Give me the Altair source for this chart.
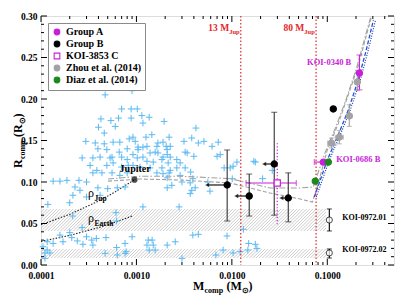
import altair as alt
import numpy as np
import pandas as pd

FONT = "Liberation Serif"
W, H = 353, 249
XMIN, XMAX = 1e-4, 0.5
YMIN, YMAX = 0.0, 0.30

PURPLE = "#c81fd8"
GREEN = "#1b8a1b"
GRAY = "#a2a2a2"
RED = "#e3262b"
BLUE = "#2450d8"
CROSS = "#5ab8f2"

# ---------------- data ----------------
cross_mass = [
    4.7e-4, 9.0e-4, 7.0e-4, 8.8e-4, 1.02e-3, 4.25e-4, 5.4e-4, 6.5e-4, 8.8e-4, 1.14e-3,
    1.36e-3, 1.17e-3, 1.95e-3, 4.2e-3, 4.0e-4, 6.0e-4, 4.6e-4, 2.95e-4, 3.7e-4, 4.6e-4,
    5.7e-4, 6.7e-4, 8.4e-4, 9.7e-4, 9.2e-4, 1.26e-3, 1.45e-3, 1.04e-3, 1.17e-3, 1.68e-3,
    1.9e-3, 2.2e-3, 2.05e-3, 2.26e-3, 3.15e-3, 3.8e-3, 4.45e-3, 5.1e-3, 6.2e-3, 2.7e-4,
    3.5e-4, 3.95e-4, 4.9e-4, 5.55e-4, 6.6e-4, 7.0e-4, 8.0e-4, 9.2e-4, 1.04e-3, 3.4e-3,
    4.0e-3, 7.0e-3, 1.29e-3, 1.64e-3, 1.39e-3, 1.57e-3, 1.9e-3, 2.26e-3, 1.02e-3, 1.17e-3,
    2.1e-3, 7.2e-3, 1.68e-3, 2.1e-3, 3.24e-3, 1.29e-3, 1.5e-3, 1.85e-3, 2.15e-3, 2.65e-3,
    2.87e-3, 9.2e-4, 1.09e-3, 1.39e-3, 1.85e-3, 2.26e-3, 2.65e-3, 3.24e-3, 1.64e-3, 1.9e-3,
    2.2e-3, 2.87e-3, 2.1e-3, 3.7e-3, 3.9e-3, 3.66e-3, 5.6e-3, 4.13e-3, 3.8e-3, 5.9e-3,
    1.76e-2, 4.16e-4, 5.3e-4, 8.0e-4, 3.27e-4, 3.85e-4, 4.9e-4, 5.7e-4, 7.0e-4, 8.2e-4,
    3.5e-4, 4.35e-4, 5.55e-4, 6.7e-4, 8.0e-4, 1.34e-4, 1.58e-4, 1.87e-4, 2.5e-4, 3.0e-4,
    2.27e-4, 2.56e-4, 2.16e-4, 3.0e-4, 2.0e-4, 3.95e-4, 5.0e-4, 6.3e-4, 7.6e-4, 4.16e-4,
    1.17e-3, 2.8e-3, 6.1e-4, 1.18e-4, 1.58e-4, 2.0e-4, 2.1e-4, 3.0e-4, 3.4e-4, 2.4e-4,
    1.16e-4, 1.34e-4, 3.5e-4, 2.75e-4, 7.6e-4, 1.05e-4, 1.16e-4, 4.7e-4, 6.3e-4, 7.6e-4,
    1.1e-4, 9.0e-4, 1.33e-3, 1.46e-3, 1.29e-3, 1.5e-3, 1.36e-3, 1.57e-3, 2.1e-3, 2.55e-3,
    3.9e-3, 4.45e-3, 3.0e-3, 6.8e-3, 8.9e-3, 8.1e-3, 1.22e-2, 1.47e-2, 1.83e-2, 1.5e-2,
    1.76e-2, 1.03e-2, 1.32e-2, 8.3e-3, 9.6e-3, 1.03e-2, 1.13e-2, 1.7e-2, 2.1e-2, 2.65e-2,
    1.01e-2, 7.55e-3, 2.35e-3, 3.0e-3, 2.1e-3, 3.66e-3, 1.1e-4, 1.24e-4, 1.7e-4, 2.7e-4,
    3.8e-4, 4.8e-4, 6.2e-4, 7.8e-4, 2.15e-4, 6.2e-4,
]
cross_radius = [
    0.205, 0.210, 0.188, 0.188, 0.188, 0.176, 0.174, 0.177, 0.177, 0.180,
    0.178, 0.171, 0.173, 0.165, 0.166, 0.167, 0.159, 0.149, 0.147, 0.146,
    0.148, 0.148, 0.152, 0.149, 0.154, 0.154, 0.157, 0.142, 0.142, 0.147,
    0.148, 0.154, 0.143, 0.143, 0.149, 0.153, 0.147, 0.149, 0.143, 0.129,
    0.129, 0.140, 0.139, 0.130, 0.136, 0.130, 0.140, 0.133, 0.139, 0.135,
    0.131, 0.131, 0.143, 0.143, 0.135, 0.136, 0.130, 0.130, 0.129, 0.130,
    0.139, 0.148, 0.135, 0.133, 0.136, 0.125, 0.124, 0.127, 0.123, 0.127,
    0.123, 0.120, 0.118, 0.117, 0.117, 0.114, 0.117, 0.117, 0.111, 0.110,
    0.111, 0.108, 0.105, 0.112, 0.104, 0.099, 0.100, 0.093, 0.090, 0.089,
    0.124, 0.130, 0.129, 0.127, 0.120, 0.114, 0.120, 0.123, 0.118, 0.120,
    0.111, 0.111, 0.111, 0.108, 0.111, 0.101, 0.101, 0.102, 0.102, 0.100,
    0.094, 0.090, 0.084, 0.082, 0.075, 0.093, 0.092, 0.093, 0.094, 0.084,
    0.070, 0.070, 0.063, 0.073, 0.036, 0.039, 0.033, 0.034, 0.030, 0.029,
    0.028, 0.026, 0.024, 0.025, 0.026, 0.022, 0.018, 0.014, 0.012, 0.014,
    0.008, 0.034, 0.030, 0.030, 0.024, 0.024, 0.018, 0.018, 0.024, 0.028,
    0.036, 0.037, 0.008, 0.012, 0.035, 0.018, 0.016, 0.018, 0.020, 0.026,
    0.025, 0.0145, 0.043, 0.117, 0.117, 0.119, 0.124, 0.125, 0.104, 0.114,
    0.104, 0.133, 0.096, 0.100, 0.093, 0.086, 0.0145, 0.0145, 0.028, 0.045,
    0.032, 0.033, 0.021, 0.016, 0.059, 0.053,
]

# legend groups (in legend order)
groups = ["Group A", "Group B", "KOI-3853 C", "Zhou et al. (2014)", "Diaz et al. (2014)"]
group_fill = [PURPLE, "black", "white", GRAY, GREEN]
group_stroke = [PURPLE, "black", PURPLE, GRAY, GREEN]
group_shape = ["circle", "circle", "square", "circle", "circle"]

zhou_mass = [0.1105, 0.1337, 0.170, 0.2065]
zhou_radius = [0.147, 0.154, 0.1795, 0.2205]
zhou_rlo = [0.141, 0.146, 0.167, 0.210]
zhou_rhi = [0.153, 0.162, 0.193, 0.232]
zhou_mlo = [0.101, 0.121, 0.160, 0.195]
zhou_mhi = [0.120, 0.147, 0.181, 0.218]

groupA_name = ["KOI-0340 B", "KOI-0686 B"]
groupA_mass = [0.217, 0.0908]
groupA_radius = [0.2313, 0.124]
koi0340_rlo, koi0340_rhi = 0.211, 0.253
koi0686_mlo, koi0686_mhi = 0.0731, 0.105

groupB_mass = [0.00893, 0.0152, 0.0278, 0.039, 0.1156]
groupB_radius = [0.0964, 0.0831, 0.1217, 0.0807, 0.188]
groupB_rlo = [0.053, 0.059, 0.060, 0.052]
groupB_rhi = [0.1386, 0.1096, 0.184, 0.111]
groupB_mlimit = [0.00551, 0.01112, 0.0218, 0.033]

koi3853_mass, koi3853_radius = 0.0299, 0.0988
koi3853_mlo, koi3853_mhi = 0.0141, 0.0473
koi3853_rlo, koi3853_rhi = 0.049, 0.148

diaz_mass = [0.0748, 0.1026]
diaz_radius = [0.101, 0.124]

koi0972_name = ["KOI-0972.01", "KOI-0972.02"]
koi0972_mass = [0.105, 0.105]
koi0972_radius = [0.0542, 0.0145]
koi0972_rlo = [0.041, 0.0084]
koi0972_rhi = [0.0675, 0.0193]
hatch_mass_edge = 0.097

jupiter_mass, jupiter_radius = 0.000954, 0.1028

rho_jup_mass = [1e-4, 2e-4, 4e-4, 6e-4, 0.000954]
rho_jup_radius = [0.0485, 0.0611, 0.0770, 0.0881, 0.1028]
rho_earth_mass = [1e-4, 2e-4, 4e-4, 6e-4, 9e-4]
rho_earth_radius = [0.0283, 0.0357, 0.0450, 0.0515, 0.0590]

mjup13, mjup80 = 0.0124, 0.0763

gray1_mass = [5.04e-4, 1.09e-3, 2.87e-3, 9.61e-3, 0.0252, 0.0521, 0.0713, 0.0805, 0.0953, 0.124, 0.158, 0.201, 0.244, 0.290]
gray1_radius = [0.1036, 0.107, 0.107, 0.104, 0.0928, 0.0928, 0.094, 0.112, 0.136, 0.1675, 0.200, 0.236, 0.271, 0.302]
gray2_mass = [5.04e-4, 1.09e-3, 2.87e-3, 9.61e-3, 0.0252, 0.0521, 0.0697, 0.0785, 0.100, 0.130, 0.166, 0.211, 0.256, 0.300]
gray2_radius = [0.101, 0.1036, 0.1024, 0.0988, 0.0867, 0.0795, 0.0759, 0.094, 0.1386, 0.170, 0.205, 0.240, 0.276, 0.305]

blue1_mass = [0.0731, 0.100, 0.130, 0.166, 0.211, 0.256, 0.304]
blue1_radius = [0.0819, 0.1265, 0.1566, 0.1867, 0.2229, 0.259, 0.295]
blue2_mass = [0.0768, 0.105, 0.1365, 0.174, 0.222, 0.269, 0.32]
blue2_radius = [0.0819, 0.1265, 0.1566, 0.1867, 0.2229, 0.259, 0.295]

y_major = [0.0, 0.05, 0.10, 0.15, 0.20, 0.25, 0.30]
y_minor = [round(0.01 * i, 2) for i in range(31) if i % 5 != 0]
x_major = [1e-4, 1e-3, 1e-2, 1e-1]
x_minor = [k * 10.0 ** e for e in range(-4, -1 + 1) for k in range(2, 10) if k * 10.0 ** e < XMAX]

# ---------------- scales / helpers ----------------
xs = alt.Scale(type="log", domain=[XMIN, XMAX], nice=False)
ys = alt.Scale(domain=[YMIN, YMAX], nice=False, zero=False)
xaxis = alt.Axis(values=x_major, format=".4f", ticks=False, domain=False, grid=False,
                 labelFont=FONT, labelFontWeight="bold", labelFontSize=9.5, labelColor="black",
                 labelPadding=5, labelFlush=False, title=None)
yaxis = alt.Axis(values=y_major, format=".2f", ticks=False, domain=False, grid=False,
                 labelFont=FONT, labelFontWeight="bold", labelFontSize=9.5, labelColor="black",
                 labelPadding=4, title=None)


def X(f):
    return alt.X(f, type="quantitative", scale=xs, axis=xaxis)


def Y(f):
    return alt.Y(f, type="quantitative", scale=ys, axis=yaxis)


def line(mass, rad, **kw):
    df = pd.DataFrame({"m": mass, "r": rad, "o": list(range(len(mass)))})
    return alt.Chart(df).mark_line(**kw).encode(x=X("m"), y=Y("r"), order="o:Q")


def text_at(m, r, t, **kw):
    df = pd.DataFrame({"m": [m], "r": [r], "t": [t]})
    base = dict(font=FONT, fontWeight="bold")
    base.update(kw)
    return alt.Chart(df).mark_text(**base).encode(x=X("m"), y=Y("r"), text="t:N")


def text_px(px, py, t, **kw):
    base = dict(font=FONT, fontWeight="bold", text=t)
    base.update(kw)
    return alt.Chart(pd.DataFrame({"a": [0]})).mark_text(**base).encode(x=alt.value(px), y=alt.value(py))


layers = []

# hatched bands (decoration)
px_dec = W / np.log10(XMAX / XMIN)
px_unit = H / (YMAX - YMIN)
rows = []
for lo, hi in zip(koi0972_rlo, koi0972_rhi):
    h = (hi - lo) * px_unit
    lxr = np.log10(hatch_mass_edge)
    lx = np.log10(XMIN) - h / px_dec
    while lx < lxr:
        lt = lx + h / px_dec
        yt = hi
        if lt > lxr:
            lt = lxr
            yt = lo + (lxr - lx) * px_dec / px_unit
        rows.append({"m1": 10 ** lx, "m2": 10 ** lt, "v1": lo, "v2": yt})
        lx += 3.2 / px_dec
hatch_df = pd.DataFrame(rows)
layers.append(alt.Chart(hatch_df).mark_rule(clip=True, color="#a8a8a8", strokeWidth=0.6).encode(
    x=X("m1"), x2=alt.X2("m2"), y=Y("v1"), y2=alt.Y2("v2")))

# constant density lines
layers.append(line(rho_jup_mass, rho_jup_radius, color="#222", strokeWidth=1.1, strokeDash=[1.5, 1.5]))
layers.append(line(rho_earth_mass, rho_earth_radius, color="#222", strokeWidth=1.1, strokeDash=[1.5, 1.5]))

# exoplanet crosses
cross_df = pd.DataFrame({"m": cross_mass, "r": cross_radius})
layers.append(alt.Chart(cross_df).mark_point(shape="M -1 0 L 1 0 M 0 -1 L 0 1", filled=False,
                                             color=CROSS, strokeWidth=1.0, size=45, opacity=1).encode(
    x=X("m"), y=Y("r")))

# model curves
layers.append(line(gray1_mass, gray1_radius, color=GRAY, strokeWidth=1.1, strokeDash=[6, 2, 1.5, 2], clip=True))
layers.append(line(gray2_mass, gray2_radius, color=GRAY, strokeWidth=1.1, strokeDash=[4, 2], clip=True))
layers.append(line(blue1_mass, blue1_radius, color=BLUE, strokeWidth=1.3, strokeDash=[4, 2], clip=True))
layers.append(line(blue2_mass, blue2_radius, color="#1030a0", strokeWidth=1.1, strokeDash=[1, 1.5], clip=True))

# vertical limit lines
vdf = pd.DataFrame({"m": [mjup13, mjup80]})
layers.append(alt.Chart(vdf).mark_rule(color=RED, strokeWidth=1.2, strokeDash=[1.5, 2]).encode(x=X("m")))
layers.append(alt.Chart(pd.DataFrame({"m": [koi3853_mass], "a": [koi3853_rlo], "b": [koi3853_rhi]}))
              .mark_rule(color=PURPLE, strokeWidth=1.2, strokeDash=[1.2, 2]).encode(
    x=X("m"), y=Y("a"), y2=alt.Y2("b")))


def vbar(mass, lo, hi, color, cap=6):
    df = pd.DataFrame({"m": mass, "lo": lo, "hi": hi})
    r = alt.Chart(df).mark_rule(color=color, strokeWidth=1.1).encode(x=X("m"), y=Y("lo"), y2=alt.Y2("hi"))
    c1 = alt.Chart(df).mark_tick(color=color, orient="horizontal", size=cap, thickness=1.1).encode(x=X("m"), y=Y("lo"))
    c2 = alt.Chart(df).mark_tick(color=color, orient="horizontal", size=cap, thickness=1.1).encode(x=X("m"), y=Y("hi"))
    return [r, c1, c2]


def hbar(rad, lo, hi, color, cap=6):
    df = pd.DataFrame({"r": rad, "lo": lo, "hi": hi})
    r = alt.Chart(df).mark_rule(color=color, strokeWidth=1.1).encode(y=Y("r"), x=X("lo"), x2=alt.X2("hi"))
    c1 = alt.Chart(df).mark_tick(color=color, orient="vertical", size=cap, thickness=1.1).encode(y=Y("r"), x=X("lo"))
    c2 = alt.Chart(df).mark_tick(color=color, orient="vertical", size=cap, thickness=1.1).encode(y=Y("r"), x=X("hi"))
    return [r, c1, c2]


# error bars
layers += vbar(zhou_mass, zhou_rlo, zhou_rhi, GRAY, cap=5)
layers += hbar(zhou_radius, zhou_mlo, zhou_mhi, GRAY, cap=5)
layers += vbar([groupA_mass[0]], [koi0340_rlo], [koi0340_rhi], PURPLE)
layers += hbar([groupA_radius[1]], [koi0686_mlo], [koi0686_mhi], PURPLE)
layers += hbar([koi3853_radius], [koi3853_mlo], [koi3853_mhi], PURPLE)
layers += vbar(groupB_mass[:4], groupB_rlo, groupB_rhi, "#333333")
layers += vbar(koi0972_mass, koi0972_rlo, koi0972_rhi, "black", cap=5)

# upper-limit arrows
adf = pd.DataFrame({"m": groupB_mass[:4], "r": groupB_radius[:4], "ml": groupB_mlimit})
layers.append(alt.Chart(adf).mark_rule(color="black", strokeWidth=1.1).encode(x=X("ml"), x2=alt.X2("m"), y=Y("r")))
layers.append(alt.Chart(adf).mark_point(shape="triangle-left", filled=True, color="black", size=22).encode(
    x=X("ml"), y=Y("r")))

# main points with legend
pts = []
for m, r in zip(zhou_mass, zhou_radius):
    pts.append((m, r, groups[3]))
for m, r in zip(groupA_mass, groupA_radius):
    pts.append((m, r, groups[0]))
for m, r in zip(groupB_mass, groupB_radius):
    pts.append((m, r, groups[1]))
pts.append((koi3853_mass, koi3853_radius, groups[2]))
for m, r in zip(diaz_mass, diaz_radius):
    pts.append((m, r, groups[4]))
pts_df = pd.DataFrame(pts, columns=["m", "r", "g"])
leg = alt.Legend(title=None, orient="top-left", offset=7, labelFont=FONT, labelFontWeight="bold",
                 labelFontSize=10, labelColor="black", symbolSize=32, symbolStrokeWidth=1.1,
                 strokeColor="#8a8a8a", fillColor="white", padding=4, rowPadding=0,
                 labelOffset=4, labelLimit=200)
layers.append(alt.Chart(pts_df).mark_point(filled=True, size=38, strokeWidth=1.2, opacity=1).encode(
    x=X("m"), y=Y("r"),
    fill=alt.Fill("g:N", scale=alt.Scale(domain=groups, range=group_fill), legend=leg),
    stroke=alt.Stroke("g:N", scale=alt.Scale(domain=groups, range=group_stroke), legend=leg),
    shape=alt.Shape("g:N", scale=alt.Scale(domain=groups, range=group_shape), legend=leg),
))

# Jupiter and KOI-0972 points
layers.append(alt.Chart(pd.DataFrame({"m": [jupiter_mass], "r": [jupiter_radius]})).mark_point(
    filled=True, color="black", size=38).encode(x=X("m"), y=Y("r")))
layers.append(alt.Chart(pd.DataFrame({"m": koi0972_mass, "r": koi0972_radius})).mark_point(
    filled=True, fill="white", stroke="black", strokeWidth=1, size=38).encode(x=X("m"), y=Y("r")))

# annotations
layers.append(text_at(0.00097, 0.1157, "Jupiter", fontSize=10, align="center", baseline="middle"))
layers.append(text_at(0.178, 0.2446, groupA_name[0], fontSize=8.5, color=PURPLE, align="right", baseline="middle"))
layers.append(text_at(0.124, 0.1277, groupA_name[1], fontSize=8.5, color=PURPLE, align="left", baseline="middle"))
layers.append(text_at(0.1435, 0.0566, koi0972_name[0], fontSize=8, align="left", baseline="middle"))
layers.append(text_at(0.1435, 0.0181, koi0972_name[1], fontSize=8, align="left", baseline="middle"))
layers.append(text_at(0.00937, 0.2815, "13 M", fontSize=9.5, color=RED, align="right", baseline="alphabetic"))
layers.append(text_at(0.00937, 0.2778, "Jup", fontSize=6.5, color=RED, align="left", baseline="alphabetic"))
layers.append(text_at(0.0574, 0.2815, "80 M", fontSize=9.5, color=RED, align="right", baseline="alphabetic"))
layers.append(text_at(0.0574, 0.2778, "Jup", fontSize=6.5, color=RED, align="left", baseline="alphabetic"))
layers.append(text_at(3.11e-4, 0.0819, "ρ", fontSize=12, fontWeight="normal", align="left", baseline="alphabetic"))
layers.append(text_at(3.64e-4, 0.0775, "Jup", fontSize=7.5, align="left", baseline="alphabetic"))
layers.append(text_at(3.11e-4, 0.0518, "ρ", fontSize=12, fontWeight="normal", align="left", baseline="alphabetic"))
layers.append(text_at(3.64e-4, 0.0474, "Earth", fontSize=7.5, align="left", baseline="alphabetic"))

# axis titles with subscripts (outside the plot area)
TX, TY = 152, 274
layers.append(text_px(TX, TY, "M", fontSize=12, align="left", baseline="alphabetic"))
layers.append(text_px(TX + 11.5, TY + 3, "comp", fontSize=8, align="left", baseline="alphabetic"))
layers.append(text_px(TX + 33.5, TY, "(M", fontSize=12, align="left", baseline="alphabetic"))
layers.append(text_px(TX + 49, TY + 3, "⊙", fontSize=8, align="left", baseline="alphabetic"))
layers.append(text_px(TX + 55.5, TY, ")", fontSize=12, align="left", baseline="alphabetic"))

layers.append(text_px(-19.5, 152, "R", fontSize=12, angle=270, align="left", baseline="alphabetic"))
layers.append(text_px(-16.5, 143.1, "comp", fontSize=8, angle=270, align="left", baseline="alphabetic"))
layers.append(text_px(-19.5, 121, "(R", fontSize=12, angle=270, align="left", baseline="alphabetic"))
layers.append(text_px(-16.5, 108.3, "⊙", fontSize=8, angle=270, align="left", baseline="alphabetic"))
layers.append(text_px(-19.5, 101.6, ")", fontSize=12, angle=270, align="left", baseline="alphabetic"))

# inward ticks (all four sides)
for vals, ln in ((y_major, 6), (y_minor, 3)):
    d = pd.DataFrame({"v": vals})
    layers.append(alt.Chart(d).mark_rule(color="black", strokeWidth=1).encode(y=Y("v"), x=alt.value(0), x2=alt.value(ln)))
    layers.append(alt.Chart(d).mark_rule(color="black", strokeWidth=1).encode(y=Y("v"), x=alt.value(W), x2=alt.value(W - ln)))
for vals, ln in ((x_major, 6), (x_minor, 3)):
    d = pd.DataFrame({"m": vals})
    layers.append(alt.Chart(d).mark_rule(color="black", strokeWidth=1).encode(x=X("m"), y=alt.value(H), y2=alt.value(H - ln)))
    layers.append(alt.Chart(d).mark_rule(color="black", strokeWidth=1).encode(x=X("m"), y=alt.value(0), y2=alt.value(ln)))

chart = alt.layer(*layers).properties(
    width=W, height=H,
    autosize=alt.AutoSizeParams(type="none"),
    padding={"left": 33, "top": 8, "right": 13, "bottom": 31},
).configure_view(stroke="black", strokeWidth=1.3).configure(font=FONT)

chart.save("out.html", embed_options={"renderer": "svg", "actions": False})
